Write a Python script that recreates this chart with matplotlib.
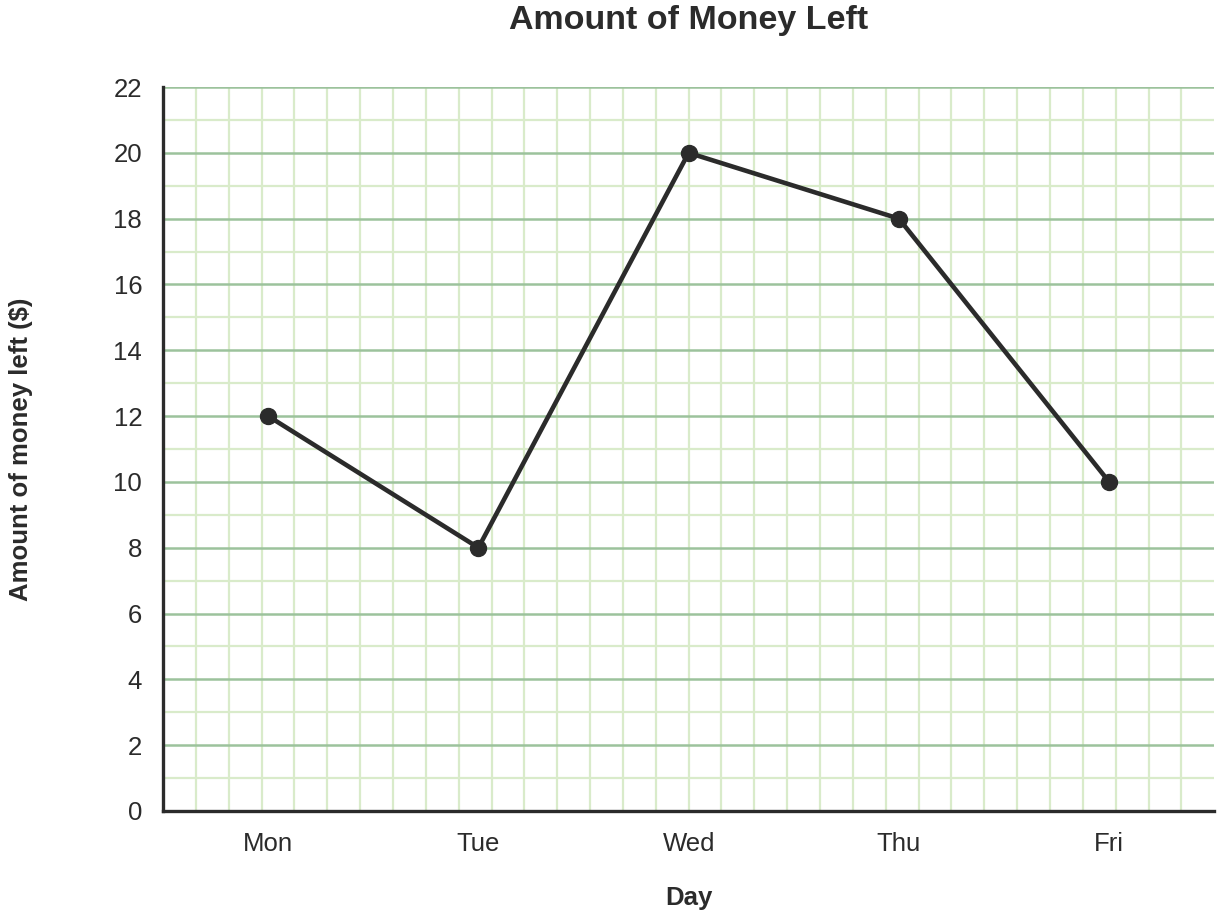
import numpy as np
import matplotlib
matplotlib.use("Agg")
import matplotlib.pyplot as plt

plt.rcParams['font.family'] = ['Liberation Sans', 'DejaVu Sans']

days = ["Mon", "Tue", "Wed", "Thu", "Fri"]
money_left = [12, 8, 20, 18, 10]
y_ticks = list(range(0, 23, 2))

dark = "#2b2b2b"
major_green = "#9cc29c"
minor_green = "#d9ebca"

fig = plt.figure(figsize=(12.21, 9.18), dpi=100)
ax = fig.add_axes([0.1335, 0.1166, 0.861, 0.7886])

x = np.arange(len(days))
ax.set_xlim(-0.5, len(days) - 0.5)
ax.set_ylim(0, 22)

# graph-paper grid
for k in range(1, 32):
    ax.axvline(-0.5 + k * len(days) / 32, color=minor_green, lw=1.6, zorder=0)
for yv in range(1, 23, 2):
    ax.axhline(yv, color=minor_green, lw=1.6, zorder=0)
for yv in y_ticks[1:]:
    ax.axhline(yv, color=major_green, lw=1.8, zorder=1)

ax.plot(x, money_left, color=dark, lw=3.3, marker="o", ms=11.5, zorder=3, clip_on=False)

ax.set_xticks(x)
ax.set_xticklabels(days)
ax.set_yticks(y_ticks)
ax.tick_params(length=0, labelsize=18.5, colors=dark, pad=15)

for side in ["top", "right"]:
    ax.spines[side].set_visible(False)
for side in ["left", "bottom"]:
    ax.spines[side].set_color(dark)
    ax.spines[side].set_linewidth(2.4)
    ax.spines[side].set_zorder(4)

ax.set_xlabel("Day", fontsize=18.5, fontweight="bold", color=dark, labelpad=22)
ax.set_ylabel("Amount of money left ($)", fontsize=18.5, fontweight="bold", color=dark, labelpad=58)
fig.suptitle("Amount of Money Left", x=0.564, y=0.995, fontsize=24.5, fontweight="bold", color=dark)

fig.savefig("out.png", dpi=100)
